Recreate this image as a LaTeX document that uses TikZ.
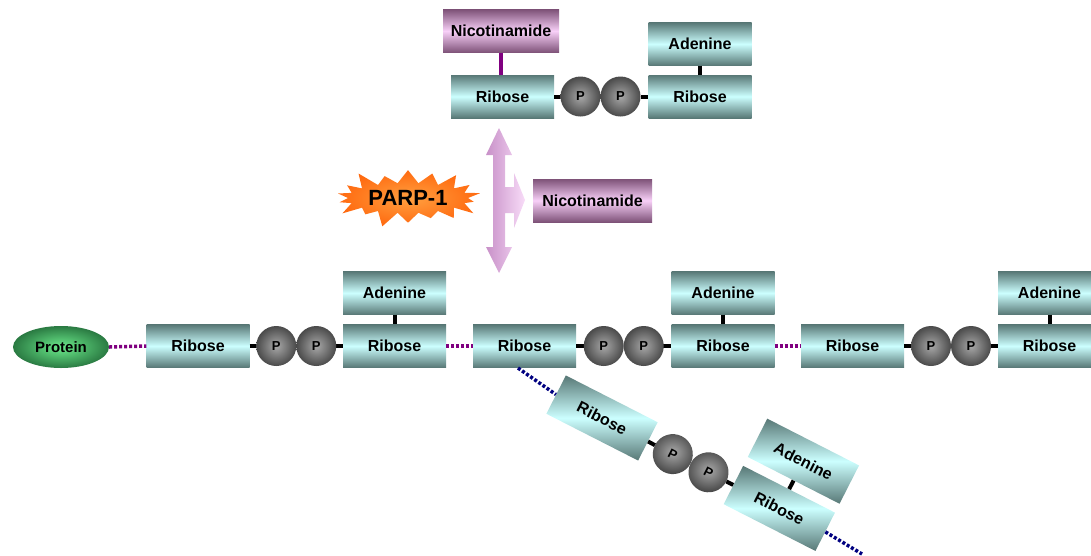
\documentclass[tikz,border=0pt]{standalone}
\usepackage{fontspec}
\setmainfont{Liberation Sans}
\usetikzlibrary{shapes.symbols,shapes.geometric}
\definecolor{tealdark}{HTML}{587876}
\definecolor{teallight}{HTML}{CCFFFF}
\definecolor{pinkdark}{HTML}{7E5278}
\definecolor{pinklight}{HTML}{F8D0F8}
\definecolor{linkpurple}{HTML}{800080}
\definecolor{linknavy}{HTML}{000080}
\definecolor{greenlight}{HTML}{6CEB8C}
\definecolor{greendark}{HTML}{2A7A42}
\definecolor{orangeout}{HTML}{FF6A10}
\definecolor{orangein}{HTML}{FFA040}
\definecolor{arrowdark}{HTML}{C890C8}
\definecolor{arrowlight}{HTML}{F8DCF8}
\definecolor{balllight}{HTML}{A8A8A8}
\definecolor{balldark}{HTML}{4A4A4A}
\tikzset{
  box/.style={rectangle, minimum width=103pt, minimum height=43pt, inner sep=0pt,
    top color=tealdark, bottom color=tealdark, middle color=teallight,
    font=\fontsize{16}{18}\bfseries\selectfont},
  nicbox/.style={box, top color=pinkdark, bottom color=pinkdark, middle color=pinklight, minimum width=116pt},
  phos/.style={circle, minimum size=40pt, inner sep=0pt, inner color=balllight, outer color=balldark,
    font=\fontsize{13}{14}\bfseries\selectfont},
  bond/.style={line width=4pt, black},
  nicbond/.style={line width=4pt, linkpurple},
  plink/.style={line width=3.5pt, linkpurple, dash pattern=on 3pt off 2pt},
  nlink/.style={line width=3.5pt, linknavy, dash pattern=on 3pt off 2pt},
  tilt/.style={rotate=-27},
}
\begin{document}
\begin{tikzpicture}[x=1pt,y=-1pt]
\useasboundingbox (0,0) rectangle (1091,555);
% ---- top NAD+ ----
\node[nicbox] (nicT) at (501,31) {Nicotinamide};
\node[box] (rT1) at (502.5,96.5) {Ribose};
\node[box] (aT) at (700,44) {Adenine};
\node[box] (rT2) at (700,96.5) {Ribose};
\draw[nicbond] (nicT.south) -- (nicT.south |- rT1.north);
\draw[bond] (aT.south) -- (rT2.north);
\draw[bond] (rT1.east) -- (560,96.5);
\draw[bond] (641,96.5) -- (rT2.west);
\node[phos] (pT1) at (580.5,96.5) {P};
\node[phos] (pT2) at (620.5,96.5) {P};
% ---- arrow ----
\path[left color=arrowdark, right color=arrowlight]
  (499,128) -- (512,155) -- (505,155) -- (505,187) -- (514,187) -- (514,173)
  -- (525,200) -- (514,228) -- (514,213) -- (505,213) -- (505,247) -- (512,247)
  -- (499,273) -- (486,247) -- (493,247) -- (493,155) -- (486,155) -- cycle;
\node[nicbox, minimum width=119pt] (nicM) at (592.5,200.5) {Nicotinamide};
\node[starburst, starburst points=18, starburst point height=18pt,
  minimum width=156pt, minimum height=66pt, inner sep=0pt,
  inner color=orangein, outer color=orangeout,
  font=\fontsize{22}{24}\bfseries\selectfont] (parp) at (408,198) {PARP-1};
% ---- main chain ----
\node[ellipse, minimum width=96pt, minimum height=42pt, inner sep=0pt,
  inner color=greenlight, outer color=greendark,
  font=\fontsize{15}{17}\bfseries\selectfont] (prot) at (61,347) {Protein};
\node[box] (r1) at (198,346) {Ribose};
\node[box] (r2) at (394.5,346) {Ribose};
\node[box] (a2) at (394.5,293) {Adenine};
\node[box] (r3) at (524.5,346) {Ribose};
\node[box] (r4) at (723,346) {Ribose};
\node[box] (a4) at (723,293) {Adenine};
\node[box] (r5) at (852.5,346) {Ribose};
\node[box] (r6) at (1049.5,346) {Ribose};
\node[box] (a6) at (1049.5,293) {Adenine};
\draw[plink] (prot.east) -- (r1.west);
\draw[plink] (r2.east) -- (r3.west);
\draw[plink] (r4.east) -- (r5.west);
\foreach \ra/\rb/\aa/\mid/\n in {r1/r2/a2/296.25/1, r3/r4/a4/623.75/2, r5/r6/a6/951/3}{
  \draw[bond] (\aa.south) -- (\rb.north);
  \draw[bond] (\ra.east) -- (\mid-35,346);
  \draw[bond] (\mid+35,346) -- (\rb.west);
  \node[phos] (pa\n) at (\mid-20,346) {P};
  \node[phos] (pb\n) at (\mid+20,346) {P};
}
% ---- branch ----
\coordinate (brs) at (518,368);
\coordinate (bre) at (862,554);
\node[box, tilt] (rA) at (602,418) {Ribose};
\node[box, tilt] (rB) at (779.3,508.4) {Ribose};
\node[box, tilt] (aB) at (803.4,461.2) {Adenine};
\draw[nlink] (brs) -- (rA.west);
\draw[nlink] (rB.east) -- (bre);
\draw[bond] (aB.south) -- (rB.north);
\draw[bond] (rA.east) -- (655,445.2);
\draw[bond] (726.3,481.4) -- (rB.west);
\node[phos, tilt] (pA1) at (672.8,454.1) {P};
\node[phos, tilt] (pA2) at (708.5,472.3) {P};
\end{tikzpicture}
\end{document}
